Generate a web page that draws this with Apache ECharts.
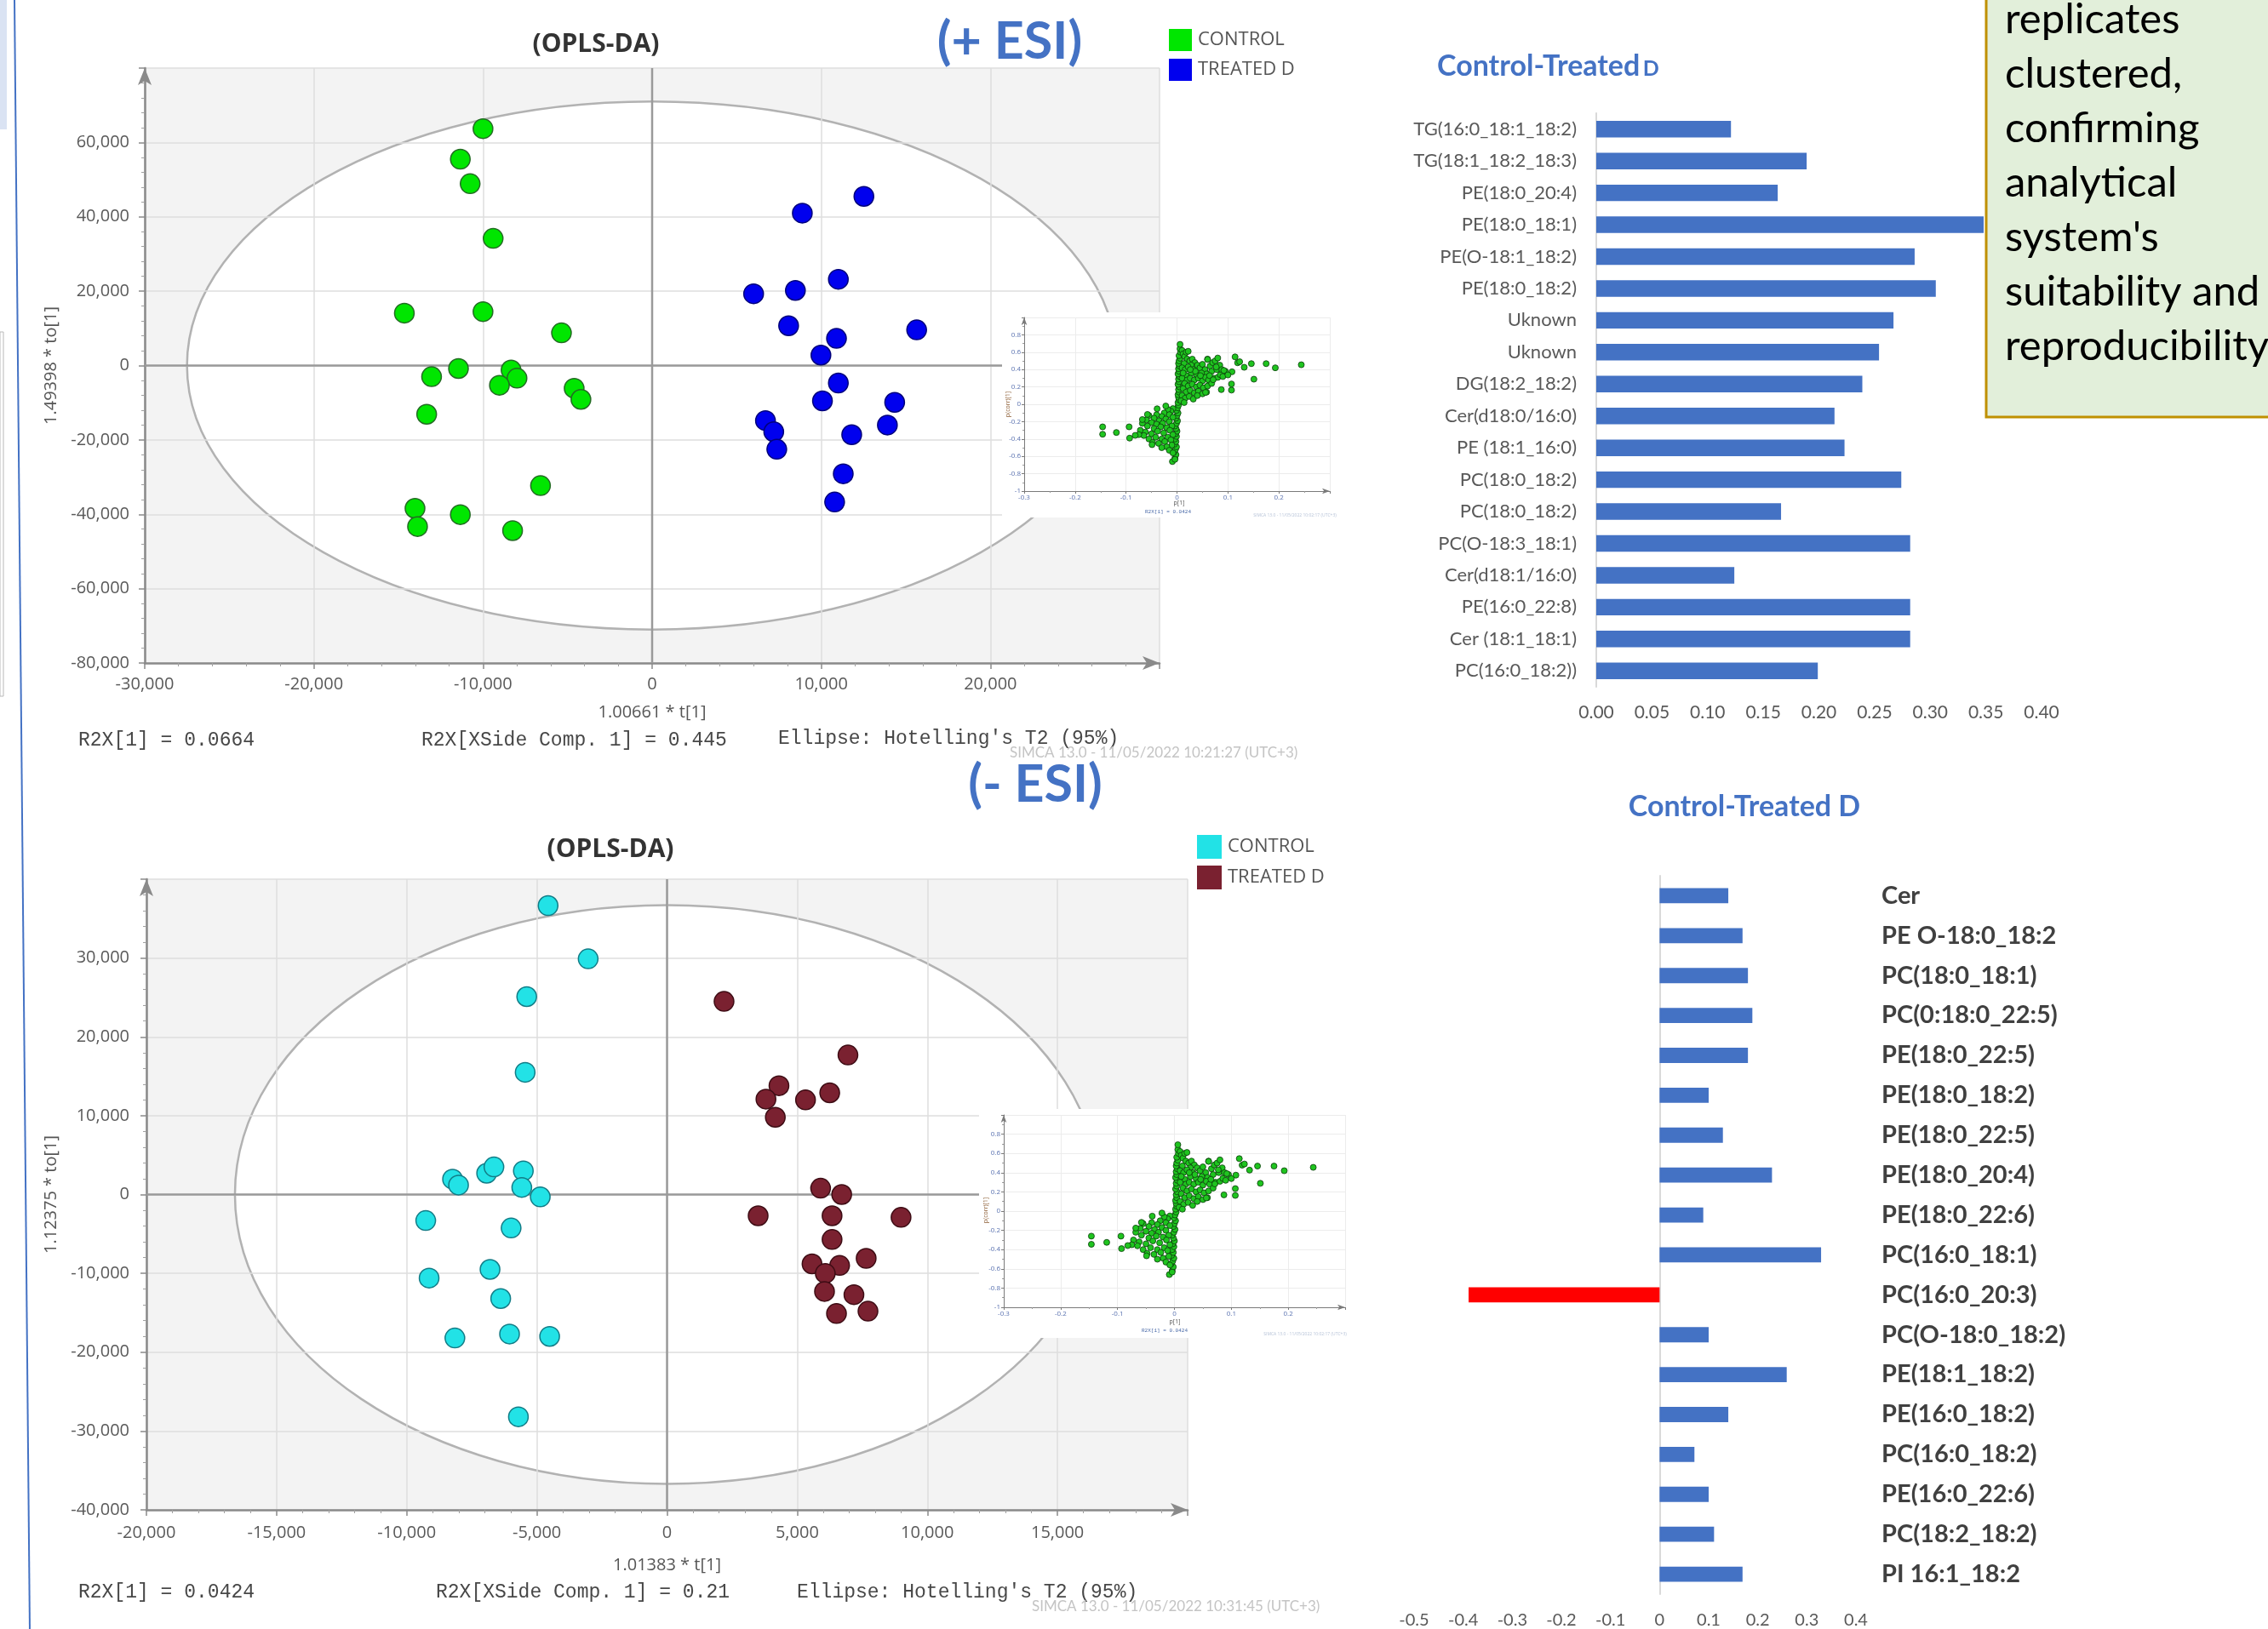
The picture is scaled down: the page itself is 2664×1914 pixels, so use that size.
<!DOCTYPE html>
<html>
<head>
<meta charset="utf-8">
<script src="https://cdn.jsdelivr.net/npm/echarts/dist/echarts.min.js"></script>
<style>
  html, body { margin: 0; padding: 0; background: #ffffff; }
  #chart { width: 2664px; height: 1914px; }
</style>
</head>
<body>
<div id="chart"></div>
<script>
// ---------- OPLS-DA score plot, positive ionisation ----------
const posControl = [
  [-10000, 63700], [-11340, 55500], [-10760, 48900], [-9400, 34200], [-14650, 14100],
  [-10000, 14500], [-5360, 8800], [-11450, -800], [-13040, -3000], [-8340, -1200],
  [-7990, -3400], [-9030, -5300], [-4610, -6100], [-4210, -9100], [-13330, -13100],
  [-6600, -32300], [-14020, -38400], [-13870, -43300], [-11340, -40100], [-8250, -44400]
];
const posTreated = [
  [12520, 45500], [8880, 41000], [11010, 23200], [8470, 20200], [6000, 19300],
  [8070, 10700], [15640, 9600], [10900, 7300], [9980, 2800], [11010, -4700],
  [10070, -9500], [14340, -9900], [13910, -16000], [11800, -18600], [6700, -14800],
  [7190, -17800], [7370, -22500], [11300, -29100], [10790, -36700]
];
// Hotelling's T2 (95%) ellipse: centre x, centre y, half-width, half-height
const posEllipse = [0, 0, 27500, 71000];

// ---------- OPLS-DA score plot, negative ionisation ----------
const negControl = [
  [-4570, 36650], [-3030, 29900], [-5390, 25100], [-5450, 15500], [-8240, 1950],
  [-8010, 1200], [-6930, 2700], [-6650, 3500], [-5520, 3000], [-5580, 900],
  [-4870, -300], [-9270, -3300], [-5990, -4250], [-9140, -10600], [-6800, -9500],
  [-6390, -13200], [-8150, -18200], [-6050, -17700], [-4510, -18000], [-5710, -28200]
];
const negTreated = [
  [2190, 24500], [6950, 17700], [4300, 13800], [3800, 12100], [4160, 9800],
  [5320, 12000], [6250, 12900], [3500, -2700], [5900, 800], [6710, 0],
  [6340, -2700], [8990, -2900], [6340, -5700], [5570, -8800], [6630, -9000],
  [7650, -8100], [6080, -10000], [6050, -12300], [7180, -12700], [6510, -15100],
  [7720, -14800]
];
const negEllipse = [0, 0, 16600, 36700];

// ---------- S-plot loadings: p[1] vs p(corr)[1] ----------
const sPlotPoints = [
  // steep central band
  [-0.004,-0.62],[-0.002,-0.58],[-0.006,-0.55],[-0.003,-0.52],[-0.001,-0.49],[-0.005,-0.46],
  [-0.002,-0.43],[-0.004,-0.40],[-0.001,-0.37],[-0.003,-0.34],[0.000,-0.31],[-0.002,-0.28],
  [-0.004,-0.25],[-0.001,-0.22],[0.001,-0.19],[-0.002,-0.16],[0.000,-0.13],[0.002,-0.10],
  [-0.001,-0.07],[0.001,-0.04],[0.003,-0.01],[0.002,0.02],[0.004,0.05],[0.003,0.08],
  [0.002,0.11],[0.004,0.14],[0.003,0.17],[0.005,0.20],[0.002,0.23],[0.004,0.26],
  [0.003,0.29],[0.005,0.32],[0.002,0.35],[0.004,0.38],[0.003,0.41],[0.005,0.44],
  [0.003,0.47],[0.004,0.50],[0.006,0.53],[0.004,0.56],[0.007,0.60],[0.006,0.64],[0.006,0.69],
  // upper-right group
  [0.010,0.62],[0.012,0.58],[0.015,0.55],[0.018,0.60],[0.022,0.61],[0.020,0.52],[0.025,0.50],
  [0.030,0.52],[0.035,0.48],[0.028,0.45],[0.014,0.47],[0.010,0.42],[0.016,0.40],[0.022,0.43],
  [0.032,0.40],[0.040,0.45],[0.045,0.42],[0.050,0.46],[0.055,0.40],[0.060,0.52],[0.065,0.44],
  [0.070,0.48],[0.075,0.50],[0.068,0.38],[0.058,0.35],[0.048,0.36],[0.038,0.34],[0.028,0.36],
  [0.018,0.33],[0.010,0.30],[0.012,0.36],[0.020,0.28],[0.026,0.30],[0.034,0.28],[0.042,0.30],
  [0.050,0.27],[0.056,0.31],[0.062,0.28],[0.072,0.30],[0.080,0.31],[0.085,0.34],[0.090,0.32],
  [0.078,0.40],[0.084,0.45],[0.088,0.40],[0.095,0.38],[0.015,0.24],[0.022,0.21],[0.030,0.23],
  [0.038,0.20],[0.045,0.22],[0.052,0.19],[0.060,0.21],[0.068,0.24],[0.012,0.18],[0.018,0.14],
  [0.026,0.16],[0.034,0.13],[0.042,0.15],[0.050,0.12],[0.058,0.14],[0.010,0.10],[0.016,0.07],
  [0.024,0.09],[0.032,0.06],[0.040,0.10],[0.008,0.04],[0.014,0.02],[0.046,0.33],[0.036,0.38],
  [0.026,0.40],[0.064,0.33],
  [0.244,0.455],[0.193,0.42],[0.175,0.468],[0.146,0.468],[0.132,0.426],[0.114,0.546],
  [0.119,0.478],[0.123,0.49],[0.151,0.289],[0.107,0.234],[0.107,0.163],[0.087,0.169],
  [0.108,0.374],[0.100,0.338],[0.092,0.39],[0.080,0.533],[0.060,0.517],[0.077,0.43],
  [0.071,0.283],[0.056,0.137],
  // lower-left group
  [-0.008,-0.05],[-0.012,-0.08],[-0.018,-0.06],[-0.025,-0.10],[-0.015,-0.12],[-0.008,-0.15],
  [-0.030,-0.14],[-0.040,-0.12],[-0.022,-0.17],[-0.035,-0.19],[-0.045,-0.16],[-0.055,-0.13],
  [-0.060,-0.18],[-0.050,-0.21],[-0.040,-0.23],[-0.028,-0.22],[-0.015,-0.20],[-0.010,-0.25],
  [-0.020,-0.27],[-0.032,-0.26],[-0.045,-0.28],[-0.058,-0.25],[-0.068,-0.22],[-0.072,-0.30],
  [-0.062,-0.32],[-0.050,-0.34],[-0.038,-0.31],[-0.026,-0.33],[-0.014,-0.30],[-0.008,-0.35],
  [-0.018,-0.38],[-0.030,-0.40],[-0.042,-0.38],[-0.055,-0.40],[-0.065,-0.36],[-0.075,-0.35],
  [-0.048,-0.44],[-0.036,-0.45],[-0.024,-0.43],[-0.012,-0.41],[-0.010,-0.47],[-0.020,-0.49],
  [-0.030,-0.50],[-0.015,-0.53],[-0.008,-0.56],
  [-0.146,-0.26],[-0.146,-0.345],[-0.119,-0.325],[-0.094,-0.26],[-0.093,-0.39],[-0.082,-0.358],
  [-0.068,-0.176],[-0.058,-0.117],[-0.049,-0.465],[-0.039,-0.052],[-0.022,-0.02],
  [-0.009,-0.66],[-0.004,-0.634]
];

// ---------- Control-Treated D bar charts ----------
const posLipids = ['TG(16:0_18:1_18:2)', 'TG(18:1_18:2_18:3)', 'PE(18:0_20:4)', 'PE(18:0_18:1)',
  'PE(O-18:1_18:2)', 'PE(18:0_18:2)', 'Uknown', 'Uknown', 'DG(18:2_18:2)', 'Cer(d18:0/16:0)',
  'PE (18:1_16:0)', 'PC(18:0_18:2)', 'PC(18:0_18:2)', 'PC(O-18:3_18:1)', 'Cer(d18:1/16:0)',
  'PE(16:0_22:8)', 'Cer (18:1_18:1)', 'PC(16:0_18:2))'];
const posValues = [0.121, 0.189, 0.163, 0.348, 0.286, 0.305, 0.267, 0.254, 0.239, 0.214,
  0.223, 0.274, 0.166, 0.282, 0.124, 0.282, 0.282, 0.199];

const negLipids = ['Cer', 'PE O-18:0_18:2', 'PC(18:0_18:1)', 'PC(0:18:0_22:5)', 'PE(18:0_22:5)',
  'PE(18:0_18:2)', 'PE(18:0_22:5)', 'PE(18:0_20:4)', 'PE(18:0_22:6)', 'PC(16:0_18:1)',
  'PC(16:0_20:3)', 'PC(O-18:0_18:2)', 'PE(18:1_18:2)', 'PE(16:0_18:2)', 'PC(16:0_18:2)',
  'PE(16:0_22:6)', 'PC(18:2_18:2)', 'PI 16:1_18:2'];
const negValues = [0.140, 0.169, 0.180, 0.189, 0.180, 0.100, 0.129, 0.229, 0.089, 0.329,
  -0.389, 0.100, 0.259, 0.140, 0.071, 0.100, 0.111, 0.169];

const noteLines = ['replicates', 'clustered,', 'confirming', 'analytical', "system's",
  'suitability and', 'reproducibility'];

// ---------- helpers ----------
const SIMCA_FONT = 'Open Sans';
const EXCEL_FONT = 'Lato';

function scoreAxis(grid, min, max, interval, name, gap, labelMargin) {
  return {
    type: 'value', gridIndex: grid, min: min, max: max, interval: interval,
    name: name, nameLocation: 'middle', nameGap: gap,
    nameTextStyle: { color: '#555', fontFamily: SIMCA_FONT, fontSize: 20 },
    axisLine: { show: true, onZero: false, symbol: ['none', 'arrow'], symbolSize: [12, 20],
      lineStyle: { color: '#8a8a8a', width: 2.5 } },
    axisTick: { show: true, length: 7, lineStyle: { color: '#8a8a8a', width: 1.5 } },
    minorTick: { show: true, splitNumber: 5, length: 4, lineStyle: { color: '#a0a0a0', width: 1 } },
    splitLine: { show: true, lineStyle: { color: '#dedede', width: 1.5 } },
    minorSplitLine: { show: false },
    axisLabel: { color: '#595959', fontFamily: SIMCA_FONT, fontSize: 20, margin: labelMargin,
      showMaxLabel: false, showMinLabel: true, hideOverlap: false }
  };
}

function splotAxis(grid, min, max, interval, z) {
  return {
    type: 'value', gridIndex: grid, min: min, max: max, interval: interval, zlevel: 1, z: z,
    axisLine: { show: true, onZero: false, symbol: ['none', 'arrow'], symbolSize: [5, 9],
      lineStyle: { color: '#7a7a7a', width: 1 } },
    axisTick: { show: true, length: 3, lineStyle: { color: '#7a7a7a' } },
    minorTick: { show: true, splitNumber: 2, length: 2, lineStyle: { color: '#9a9a9a' } },
    splitLine: { show: true, lineStyle: { color: '#ececec', width: 1 } },
    axisLabel: { color: '#5a72b0', fontFamily: SIMCA_FONT, fontSize: 8, margin: 4,
      showMaxLabel: false, hideOverlap: false }
  };
}

// Plot background plus Hotelling's ellipse, positioned through the axes
function ellipseItem(params, api) {
  const cs = params.coordSys;
  const c = api.coord([api.value(0), api.value(1)]);
  const e = api.coord([api.value(0) + api.value(2), api.value(1) + api.value(3)]);
  return {
    type: 'group',
    children: [
      { type: 'rect', shape: { x: cs.x, y: cs.y, width: cs.width, height: cs.height },
        style: { fill: '#f3f3f3' } },
      { type: 'ellipse', shape: { cx: c[0], cy: c[1], rx: e[0] - c[0], ry: c[1] - e[1] },
        style: { fill: '#ffffff', stroke: '#b2b2b2', lineWidth: 2.5 } }
    ]
  };
}

// Dark reference lines through the origin
function originLines(params, api) {
  const cs = params.coordSys;
  const o = api.coord([0, 0]);
  const st = { stroke: '#9a9a9a', lineWidth: 2.5 };
  return {
    type: 'group',
    children: [
      { type: 'line', shape: { x1: cs.x, y1: o[1], x2: cs.x + cs.width, y2: o[1] }, style: st },
      { type: 'line', shape: { x1: o[0], y1: cs.y, x2: o[0], y2: cs.y + cs.height }, style: st }
    ]
  };
}

function scoreSeries(name, data, xi, fill, border) {
  return {
    type: 'scatter', name: name, xAxisIndex: xi, yAxisIndex: xi, data: data, z: 3,
    symbol: 'circle', symbolSize: 23,
    itemStyle: { color: fill, borderColor: border, borderWidth: 1.5, opacity: 1 }
  };
}

function splotSeries(xi) {
  return {
    type: 'scatter', xAxisIndex: xi, yAxisIndex: xi, data: sPlotPoints, zlevel: 1, z: 6,
    symbol: 'circle', symbolSize: 7,
    itemStyle: { color: '#1fc41f', borderColor: '#0b3a0b', borderWidth: 0.8, opacity: 1 }
  };
}

function txt(x, y, text, font, fill, align, vAlign, extra) {
  return Object.assign({
    type: 'text', x: x, y: y, z: 20,
    style: { text: text, font: font, fill: fill, align: align || 'left', verticalAlign: vAlign || 'middle' }
  }, extra || {});
}

const chart = echarts.init(document.getElementById('chart'), null, { renderer: 'canvas' });

const option = {
  animation: false,
  backgroundColor: '#ffffff',
  grid: [
    { left: 170, top: 80, width: 1192, height: 699, show: false },
    { left: 172, top: 1033, width: 1223, height: 741, show: false },
    { left: 1203, top: 373, width: 359, height: 204, show: false, zlevel: 1 },
    { left: 1179, top: 1310, width: 401, height: 226, show: false, zlevel: 1 },
    { left: 1875, top: 133, width: 523, height: 674, show: false },
    { left: 1661, top: 1029, width: 519, height: 844, show: false }
  ],
  xAxis: [
    scoreAxis(0, -30000, 30000, 10000, '1.00661 * t[1]', 48, 15),
    scoreAxis(1, -20000, 20000, 5000, '1.01383 * t[1]', 55, 17),
    splotAxis(2, -0.3, 0.3, 0.1, 5),
    splotAxis(3, -0.3, 0.3, 0.1, 5),
    { type: 'value', gridIndex: 4, min: 0, max: 0.4, interval: 0.05,
      axisLine: { show: false }, axisTick: { show: false }, splitLine: { show: false },
      axisLabel: { color: '#595959', fontFamily: EXCEL_FONT, fontSize: 21, margin: 20,
        formatter: v => v.toFixed(2), showMaxLabel: true, hideOverlap: false } },
    { type: 'value', gridIndex: 5, min: -0.5, max: 0.4, interval: 0.1,
      axisLine: { show: false }, axisTick: { show: false }, splitLine: { show: false },
      axisLabel: { color: '#595959', fontFamily: EXCEL_FONT, fontSize: 20, margin: 21,
        showMaxLabel: true, hideOverlap: false } }
  ],
  yAxis: [
    scoreAxis(0, -80000, 80000, 20000, '1.49398 * to[1]', 100, 18),
    scoreAxis(1, -40000, 40000, 10000, '1.12375 * to[1]', 102, 20),
    splotAxis(2, -1, 1, 0.2, 5),
    splotAxis(3, -1, 1, 0.2, 5),
    { type: 'category', gridIndex: 4, data: posLipids, inverse: true,
      axisLine: { show: true, lineStyle: { color: '#d9d9d9', width: 2 } },
      axisTick: { show: false }, splitLine: { show: false },
      axisLabel: { color: '#595959', fontFamily: EXCEL_FONT, fontSize: 22, margin: 23,
        interval: 0, hideOverlap: false } },
    { type: 'category', gridIndex: 5, data: negLipids, inverse: true,
      axisLine: { show: true, onZero: true, lineStyle: { color: '#d9d9d9', width: 2 } },
      axisTick: { show: false }, splitLine: { show: false }, axisLabel: { show: false } },
    { type: 'category', gridIndex: 5, data: negLipids, inverse: true, position: 'right',
      axisLine: { show: false }, axisTick: { show: false }, splitLine: { show: false },
      axisLabel: { color: '#404040', fontFamily: EXCEL_FONT, fontSize: 29, fontWeight: 'bold',
        margin: 30, interval: 0, hideOverlap: false } }
  ],
  legend: [
    { left: 1368, top: 29, orient: 'vertical', icon: 'rect', itemWidth: 27, itemHeight: 26,
      itemGap: 9, selectedMode: false,
      textStyle: { color: '#555', fontFamily: SIMCA_FONT, fontSize: 22, padding: [0, 0, 0, 2] },
      itemStyle: { borderWidth: 0 },
      data: [{ name: 'CONTROL', itemStyle: { color: '#00e600', borderWidth: 0 } },
             { name: 'TREATED D', itemStyle: { color: '#0000ee', borderWidth: 0 } }] },
    { left: 1401, top: 976, orient: 'vertical', icon: 'rect', itemWidth: 29, itemHeight: 28,
      itemGap: 8, selectedMode: false,
      textStyle: { color: '#555', fontFamily: SIMCA_FONT, fontSize: 22, padding: [0, 0, 0, 2] },
      itemStyle: { borderWidth: 0 },
      data: [{ name: 'CONTROL', itemStyle: { color: '#22e2e6', borderWidth: 0 } },
             { name: 'TREATED D', itemStyle: { color: '#7a2130', borderWidth: 0 } }] }
  ],
  series: [
    { type: 'custom', xAxisIndex: 0, yAxisIndex: 0, z: -1, silent: true,
      data: [posEllipse], renderItem: ellipseItem },
    { type: 'custom', xAxisIndex: 0, yAxisIndex: 0, z: 1, silent: true,
      data: [[0, 0]], renderItem: originLines },
    scoreSeries('CONTROL', posControl, 0, '#00e600', '#236b23'),
    scoreSeries('TREATED D', posTreated, 0, '#0000ee', '#00007a'),

    { type: 'custom', xAxisIndex: 1, yAxisIndex: 1, z: -1, silent: true,
      data: [negEllipse], renderItem: ellipseItem },
    { type: 'custom', xAxisIndex: 1, yAxisIndex: 1, z: 1, silent: true,
      data: [[0, 0]], renderItem: originLines },
    scoreSeries('CONTROL', negControl, 1, '#22e2e6', '#127c86'),
    scoreSeries('TREATED D', negTreated, 1, '#7a2130', '#3d0c14'),

    splotSeries(2),
    splotSeries(3),

    { type: 'bar', xAxisIndex: 4, yAxisIndex: 4, data: posValues, barWidth: '52%',
      itemStyle: { color: '#4472c4' } },
    { type: 'bar', xAxisIndex: 5, yAxisIndex: 5, data: negValues, barWidth: '38%',
      itemStyle: { color: p => (p.value < 0 ? '#ff0000' : '#4472c4') } }
  ],
  graphic: [
    // slide edge decorations
    { type: 'rect', shape: { x: 0, y: 0, width: 8, height: 152 }, style: { fill: '#dae3f3' } },
    { type: 'rect', shape: { x: 0, y: 390, width: 4, height: 428 },
      style: { fill: 'none', stroke: '#b8b8b8', lineWidth: 1 } },
    { type: 'line', shape: { x1: 17, y1: 0, x2: 35, y2: 1914 },
      style: { stroke: '#4472c4', lineWidth: 2 } },

    // score plot titles and notes
    txt(700, 52, '(OPLS-DA)', 'bold 30px "Open Sans"', '#333333', 'center'),
    txt(717, 998, '(OPLS-DA)', 'bold 30px "Open Sans"', '#333333', 'center'),
    txt(1186, 49, '(+ ESI)', 'bold 61px Lato', '#4472c4', 'center'),
    txt(1216, 922, '(- ESI)', 'bold 61px Lato', '#4472c4', 'center'),

    txt(92, 870, 'R2X[1] = 0.0664', '23px "Liberation Mono"', '#474747'),
    txt(495, 870, 'R2X[XSide Comp. 1] = 0.445', '23px "Liberation Mono"', '#474747'),
    txt(914, 868, "Ellipse: Hotelling's T2 (95%)", '23px "Liberation Mono"', '#474747'),
    txt(1186, 885, 'SIMCA 13.0 - 11/05/2022 10:21:27 (UTC+3)', '17px Lato', '#c4c4c4'),

    txt(92, 1871, 'R2X[1] = 0.0424', '23px "Liberation Mono"', '#474747'),
    txt(512, 1871, 'R2X[XSide Comp. 1] = 0.21', '23px "Liberation Mono"', '#474747'),
    txt(936, 1871, "Ellipse: Hotelling's T2 (95%)", '23px "Liberation Mono"', '#474747'),
    txt(1212, 1888, 'SIMCA 13.0 - 11/05/2022 10:31:45 (UTC+3)', '17px Lato', '#c4c4c4'),

    // S-plot insets: white panels and their small captions
    { type: 'rect', zlevel: 1, z: 0, shape: { x: 1177, y: 367, width: 388, height: 241 },
      style: { fill: '#ffffff' } },
    { type: 'rect', zlevel: 1, z: 0, shape: { x: 1150, y: 1303, width: 432, height: 269 },
      style: { fill: '#ffffff' } },
    txt(1385, 591, 'p[1]', '7px "Open Sans"', '#555', 'center', 'middle', { zlevel: 1 }),
    txt(1372, 601, 'R2X[1] = 0.0424', '6px "Liberation Mono"', '#4a6aa8', 'center', 'middle', { zlevel: 1 }),
    txt(1184, 475, 'p(corr)[1]', '7px "Open Sans"', '#8a5a30', 'center', 'middle', { zlevel: 1, rotation: Math.PI / 2 }),
    txt(1521, 606, 'SIMCA 13.0 - 11/05/2022 10:02:17 (UTC+3)', '5px "Open Sans"', '#b8c4d8', 'center', 'middle', { zlevel: 1 }),
    txt(1380, 1553, 'p[1]', '7px "Open Sans"', '#555', 'center', 'middle', { zlevel: 1 }),
    txt(1368, 1563, 'R2X[1] = 0.0424', '6px "Liberation Mono"', '#4a6aa8', 'center', 'middle', { zlevel: 1 }),
    txt(1158, 1422, 'p(corr)[1]', '7px "Open Sans"', '#8a5a30', 'center', 'middle', { zlevel: 1, rotation: Math.PI / 2 }),
    txt(1533, 1568, 'SIMCA 13.0 - 11/05/2022 10:02:17 (UTC+3)', '5px "Open Sans"', '#b8c4d8', 'center', 'middle', { zlevel: 1 }),

    // bar chart titles
    { type: 'text', x: 1688, y: 78, z: 20,
      style: { text: '{a|Control-Treated} {b|D}', verticalAlign: 'middle', align: 'left',
        rich: { a: { font: 'bold 34px Lato', fill: '#4472c4' },
                b: { font: 'bold 25px Lato', fill: '#4472c4', padding: [6, 0, 0, 0] } } } },
    txt(2049, 948, 'Control-Treated D', 'bold 34px Lato', '#4472c4', 'center'),

    // note box
    { type: 'rect', z: 100, shape: { x: 2333, y: -10, width: 345, height: 500 },
      style: { fill: '#e2efda', stroke: '#bf9000', lineWidth: 3 } },
    { type: 'text', x: 2355, y: -9, z: 101,
      style: { text: noteLines.join('\n'), font: '49px Lato', fill: '#000000',
        lineHeight: 64, align: 'left', verticalAlign: 'top' } }
  ]
};

chart.setOption(option);
</script>
</body>
</html>
